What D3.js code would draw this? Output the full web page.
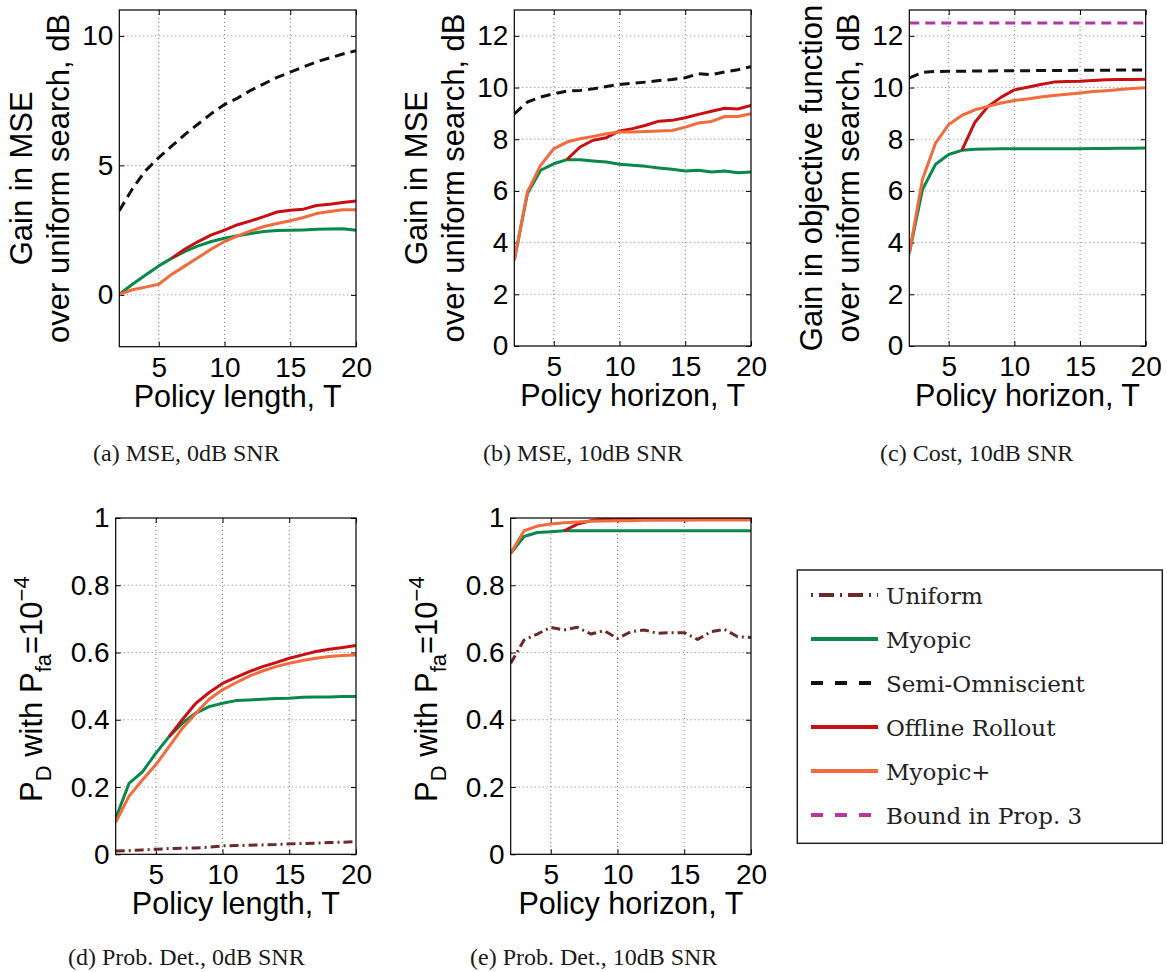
<!DOCTYPE html>
<html><head><meta charset="utf-8">
<script src="https://cdn.jsdelivr.net/npm/d3@7"></script>
<style>
html,body{margin:0;padding:0;background:#fff;}
svg{display:block;}
</style></head>
<body>
<svg id="chart" width="1167" height="972"></svg>
<script>
// ---------------- DATA ----------------
const policyT = [2,3,4,5,6,7,8,9,10,11,12,13,14,15,16,17,18,19,20];

// (a) MSE, 0dB SNR
const aSemi     = [3.25,4.1,4.8,5.3,5.75,6.2,6.6,7.0,7.35,7.6,7.9,8.15,8.4,8.6,8.8,9.0,9.15,9.3,9.43];
const aMyopic   = [0.02,0.41,0.77,1.12,1.42,1.68,1.89,2.06,2.19,2.28,2.37,2.45,2.49,2.5,2.51,2.53,2.54,2.55,2.5];
const aRollout  = [null,null,null,null,1.42,1.77,2.06,2.32,2.5,2.71,2.86,3.02,3.2,3.27,3.31,3.45,3.5,3.57,3.63];
const aMyopicP  = [0.02,0.2,0.3,0.41,0.8,1.12,1.44,1.77,2.06,2.28,2.47,2.64,2.76,2.86,2.99,3.14,3.22,3.29,3.29];

// (b) MSE, 10dB SNR
const bSemi     = [8.98,9.44,9.63,9.76,9.86,9.89,9.95,10.04,10.12,10.17,10.21,10.27,10.31,10.38,10.53,10.5,10.6,10.69,10.81];
const bMyopic   = [3.32,5.9,6.8,7.05,7.21,7.21,7.16,7.12,7.03,6.99,6.95,6.89,6.84,6.77,6.8,6.73,6.77,6.7,6.73];
const bRollout  = [null,null,null,null,7.21,7.7,7.96,8.06,8.32,8.41,8.54,8.7,8.73,8.83,8.96,9.08,9.2,9.17,9.31];
const bMyopicP  = [3.32,5.96,6.99,7.63,7.89,8.02,8.11,8.21,8.28,8.28,8.3,8.32,8.34,8.47,8.63,8.69,8.88,8.88,8.99];

// (c) Cost, 10dB SNR
const cSemi     = [10.37,10.59,10.62,10.63,10.63,10.64,10.64,10.65,10.65,10.65,10.66,10.66,10.66,10.67,10.67,10.67,10.68,10.68,10.68];
const cMyopic   = [3.58,6.05,7.03,7.41,7.57,7.61,7.62,7.63,7.63,7.63,7.63,7.63,7.63,7.63,7.64,7.64,7.65,7.65,7.66];
const cRollout  = [null,null,null,null,7.57,8.66,9.27,9.63,9.91,10.01,10.12,10.21,10.23,10.24,10.27,10.3,10.31,10.31,10.32];
const cMyopicP  = [3.58,6.44,7.85,8.57,8.92,9.14,9.27,9.4,9.5,9.56,9.63,9.69,9.74,9.79,9.85,9.88,9.92,9.96,9.99];
const cBound    = [12.5,12.5,12.5,12.5,12.5,12.5,12.5,12.5,12.5,12.5,12.5,12.5,12.5,12.5,12.5,12.5,12.5,12.5,12.5];

// (d) Prob. Det., 0dB SNR
const dUniform  = [0.01,0.011,0.013,0.015,0.017,0.018,0.019,0.021,0.025,0.026,0.027,0.028,0.029,0.031,0.032,0.033,0.035,0.036,0.038];
const dMyopic   = [0.107,0.211,0.245,0.3,0.35,0.39,0.42,0.439,0.449,0.457,0.459,0.461,0.463,0.464,0.467,0.468,0.468,0.469,0.469];
const dRollout  = [null,null,null,null,0.35,0.401,0.449,0.481,0.508,0.526,0.543,0.558,0.57,0.583,0.593,0.603,0.61,0.615,0.621];
const dMyopicP  = [0.095,0.173,0.221,0.266,0.32,0.375,0.419,0.461,0.489,0.51,0.53,0.545,0.558,0.568,0.576,0.583,0.588,0.591,0.593];

// (e) Prob. Det., 10dB SNR
const eUniform  = [0.568,0.637,0.655,0.675,0.667,0.675,0.655,0.665,0.642,0.662,0.667,0.657,0.659,0.659,0.639,0.662,0.669,0.647,0.645];
const eMyopic   = [0.895,0.945,0.957,0.959,0.962,0.962,0.962,0.962,0.962,0.962,0.962,0.962,0.962,0.962,0.962,0.962,0.962,0.962,0.962];
const eRollout  = [null,null,null,null,0.962,0.982,0.992,0.996,0.998,0.998,0.998,0.998,0.998,0.998,0.998,0.998,0.998,0.998,0.998];
const eMyopicP  = [0.895,0.962,0.976,0.982,0.986,0.988,0.99,0.991,0.992,0.992,0.993,0.993,0.993,0.993,0.994,0.994,0.994,0.994,0.994];

const xTicks   = [5,10,15,20];
const yTicksA  = [0,5,10];
const yTicksBC = [0,2,4,6,8,10,12];
const yTicksDE = [0,0.2,0.4,0.6,0.8,1];

const legendNames = ["Uniform","Myopic","Semi-Omniscient","Offline Rollout","Myopic+","Bound in Prop. 3"];
const captions = ["(a) MSE, 0dB SNR","(b) MSE, 10dB SNR","(c) Cost, 10dB SNR","(d) Prob. Det., 0dB SNR","(e) Prob. Det., 10dB SNR"];

// ---------------- STYLES ----------------
const styles = {
  "Uniform":          {color:"#6b2929", dash:"9,4,2,4", width:3},
  "Myopic":           {color:"#08894a", dash:null, width:3},
  "Semi-Omniscient":  {color:"#111111", dash:"10,6", width:3},
  "Offline Rollout":  {color:"#c80f14", dash:null, width:3},
  "Myopic+":          {color:"#f26b3d", dash:null, width:3},
  "Bound in Prop. 3": {color:"#b5379f", dash:"10,6", width:3}
};
const legendDash = {"Uniform":"2,6,15,6","Semi-Omniscient":"12,12","Bound in Prop. 3":"12,12"};

const panels = [
  {id:"a", box:[119.3,10,356,346.7], ydom:[-2,11], yticks:yTicksA, fmt:d3.format("d"),
   xlabel:"Policy length, T", ylab:["Gain in MSE","over uniform search, dB"],
   series:[["Semi-Omniscient",aSemi],["Myopic",aMyopic],["Offline Rollout",aRollout],["Myopic+",aMyopicP]],
   cap:[93,461]},
  {id:"b", box:[514.3,10,751,346], ydom:[0,13], yticks:yTicksBC, fmt:d3.format("d"),
   xlabel:"Policy horizon, T", ylab:["Gain in MSE","over uniform search, dB"],
   series:[["Semi-Omniscient",bSemi],["Myopic",bMyopic],["Offline Rollout",bRollout],["Myopic+",bMyopicP]],
   cap:[483,461]},
  {id:"c", box:[909.3,10,1145.7,346], ydom:[0,13], yticks:yTicksBC, fmt:d3.format("d"),
   xlabel:"Policy horizon, T", ylab:["Gain in objective function","over uniform search, dB"],
   series:[["Myopic",cMyopic],["Semi-Omniscient",cSemi],["Offline Rollout",cRollout],["Myopic+",cMyopicP],["Bound in Prop. 3",cBound]],
   cap:[880,461]},
  {id:"d", box:[115.7,518,356,854.3], ydom:[0,1], yticks:yTicksDE, fmt:d => d===0||d===1? String(d): d3.format(".1f")(d),
   xlabel:"Policy length, T", ylab:null,
   series:[["Uniform",dUniform],["Myopic",dMyopic],["Offline Rollout",dRollout],["Myopic+",dMyopicP]],
   cap:[68,965]},
  {id:"e", box:[510.7,518,751,854.3], ydom:[0,1], yticks:yTicksDE, fmt:d => d===0||d===1? String(d): d3.format(".1f")(d),
   xlabel:"Policy horizon, T", ylab:null,
   series:[["Uniform",eUniform],["Myopic",eMyopic],["Offline Rollout",eRollout],["Myopic+",eMyopicP]],
   cap:[470,965]}
];

const svg = d3.select("#chart");
const sans = "'Liberation Sans', Arial, Helvetica, sans-serif";
const serif = "'Liberation Serif', 'Times New Roman', serif";

panels.forEach((p, pi) => {
  const [L,T,R,B] = p.box;
  const x = d3.scaleLinear().domain([2,20]).range([L,R]);
  const y = d3.scaleLinear().domain(p.ydom).range([B,T]);
  const g = svg.append("g");

  // grid
  g.selectAll(".gx").data(xTicks.filter(v => v<20)).enter().append("line")
    .attr("x1", d=>x(d)).attr("x2", d=>x(d)).attr("y1",T).attr("y2",B)
    .attr("stroke","#808080").attr("stroke-width",1).attr("stroke-dasharray","1,3");
  g.selectAll(".gy").data(p.yticks.filter(v => y(v)>T+1 && y(v)<B-1)).enter().append("line")
    .attr("y1", d=>y(d)).attr("y2", d=>y(d)).attr("x1",L).attr("x2",R)
    .attr("stroke","#808080").attr("stroke-width",1).attr("stroke-dasharray","1,3");

  // axes (inward ticks on all sides)
  const tk = 5;
  const axB = d3.axisBottom(x).tickValues(xTicks).tickSize(-tk).tickPadding(10).tickFormat(d3.format("d"));
  const axT = d3.axisTop(x).tickValues(xTicks).tickSize(-tk).tickFormat("");
  const axL = d3.axisLeft(y).tickValues(p.yticks).tickSize(-tk).tickPadding(6).tickFormat(p.fmt);
  const axR = d3.axisRight(y).tickValues(p.yticks).tickSize(-tk).tickFormat("");
  [[axB,`translate(0,${B})`],[axT,`translate(0,${T})`],[axL,`translate(${L},0)`],[axR,`translate(${R},0)`]].forEach(([ax,tr])=>{
    const a = g.append("g").attr("transform",tr).call(ax);
    a.select(".domain").remove();
    a.selectAll("line").attr("stroke","#000").attr("stroke-width",1);
    a.selectAll("text").attr("font-family",sans).attr("font-size",28).attr("fill","#000");
  });

  // clip
  const cid = "clip"+p.id;
  svg.append("clipPath").attr("id",cid).append("rect").attr("x",L).attr("y",T).attr("width",R-L).attr("height",B-T);

  const line = d3.line().defined(d=>d[1]!==null).x(d=>x(d[0])).y(d=>y(d[1]));
  const lg = g.append("g").attr("clip-path",`url(#${cid})`);
  p.series.forEach(([name,vals]) => {
    const st = styles[name];
    lg.append("path").datum(policyT.map((t,i)=>[t,vals[i]]))
      .attr("d",line).attr("fill","none").attr("stroke",st.color)
      .attr("stroke-width",st.width).attr("stroke-dasharray",st.dash)
      .attr("stroke-linejoin","round");
  });

  // box
  g.append("rect").attr("x",L).attr("y",T).attr("width",R-L).attr("height",B-T)
    .attr("fill","none").attr("stroke","#000").attr("stroke-width",1.2);

  // x label
  g.append("text").attr("x",(L+R)/2).attr("y",B+60).attr("text-anchor","middle")
    .attr("font-family",sans).attr("font-size",30.5).text(p.xlabel);

  // y label
  const cy = (T+B)/2;
  if (p.ylab) {
    [[p.ylab[0],L-87],[p.ylab[1],L-50]].forEach(([txt,bx])=>{
      g.append("text").attr("transform",`translate(${bx},${cy}) rotate(-90)`)
        .attr("text-anchor","middle").attr("font-family",sans).attr("font-size",31).text(txt);
    });
  } else {
    const t = g.append("text").attr("transform",`translate(${L-74},${cy+3}) rotate(-90)`)
      .attr("text-anchor","middle").attr("font-family",sans).attr("font-size",31);
    t.append("tspan").text("P");
    t.append("tspan").attr("dy",9).attr("font-size",22).text("D");
    t.append("tspan").attr("dy",-9).text(" with P");
    t.append("tspan").attr("dy",9).attr("font-size",22).text("fa");
    t.append("tspan").attr("dy",-9).text("=10");
    t.append("tspan").attr("dy",-13).attr("font-size",22).text("\u22124");
  }

  // caption
  svg.append("text").attr("x",p.cap[0]).attr("y",p.cap[1]).attr("font-family",serif)
    .attr("font-size",24).attr("fill","#1a1a1a").text(captions[pi]);
});

// legend
const lgx = 797.3, lgy = 570, lgw = 365, lgh = 273.3;
const leg = svg.append("g");
leg.append("rect").attr("x",lgx).attr("y",lgy).attr("width",lgw).attr("height",lgh)
  .attr("fill","#fff").attr("stroke","#222").attr("stroke-width",1.5);
const rowY = d3.scalePoint().domain(legendNames).range([595,815]);
legendNames.forEach(name => {
  const st = styles[name];
  const yy = rowY(name);
  leg.append("line").attr("x1",811).attr("x2",878).attr("y1",yy).attr("y2",yy)
    .attr("stroke",st.color).attr("stroke-width",4)
    .attr("stroke-dasharray", legendDash[name] || null);
  leg.append("text").attr("x",886).attr("y",yy+8.5).attr("font-family","'DejaVu Serif', serif")
    .attr("font-size",23).attr("fill","#222").text(name);
});
</script>
</body></html>
